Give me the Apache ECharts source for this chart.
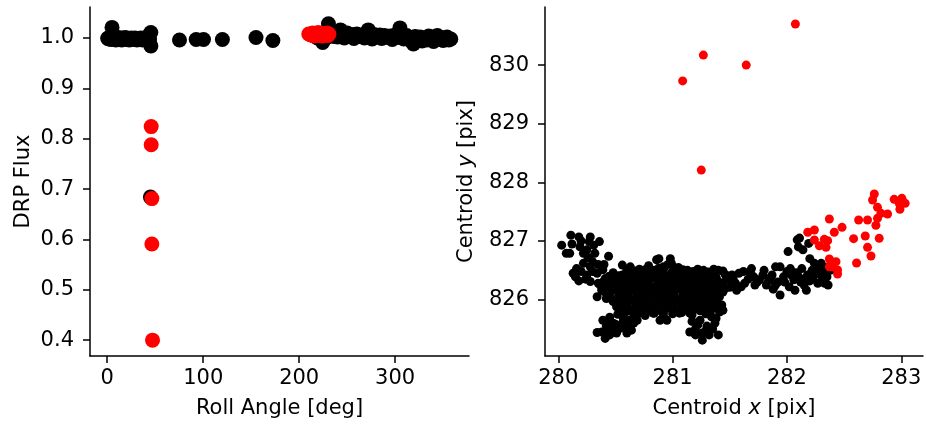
<!DOCTYPE html>
<html>
<head>
<meta charset="utf-8">
<script src="https://cdn.jsdelivr.net/npm/echarts@6/dist/echarts.min.js"></script>
<style>
html,body{margin:0;padding:0;background:#fff;}
#chart{width:927px;height:432px;}
</style>
</head>
<body>
<div id="chart"></div>
<script>
// ---- Left panel: Roll angle vs DRP flux ----
const fluxBlackPts = [
  [0.5,0.999],[1,1.0],[2,0.998],[3,1.001],[4,0.997],[5,1.021],[6,1.0],[7,0.998],[8,1.002],[9,0.996],
  [10,0.999],[11,1.001],[12,0.997],[13,1.0],[14,0.998],[15,0.996],[16,1.0],[18,0.998],[19,1.001],[20,0.997],
  [22,0.999],[23,0.996],[25,1.0],[26,0.998],[28,0.997],[29,1.0],[31,0.996],[32,0.999],[34,0.998],[35,1.0],
  [37,0.996],[38,0.999],[40,1.0],[41,0.997],[42,1.003],[44,0.999],[45.4,1.011],[45.5,0.984],[44,0.994],
  [45,0.684],
  [75.3,0.996],[92.7,0.997],[100.3,0.997],[120,0.997],[155,1.001],[172.6,0.995],
  [219,1.0],[222,1.004],[224.5,0.991],[226,1.008],[228,1.0],[230.5,1.028],[232,1.005],[234,1.01],[236,1.003],
  [238,1.008],[240,1.002],[243,1.016],[245,1.006],[247,1.0],[250,1.01],[252,1.004],[255,1.007],[257,0.999],
  [260,1.008],[262,1.003],[265,1.006],[268,1.0],[270,1.009],[272,1.016],[274,1.004],[276,0.998],[278,1.007],
  [281,1.002],[284,1.006],[286,0.999],[289,1.005],[292,1.001],[295,1.004],[297,0.997],[300,1.006],[302,1.001],
  [305,1.02],[307,1.003],[309,0.998],[312,1.005],[314,1.0],[316,0.995],[319,0.988],[321,1.003],[323,0.997],
  [326,1.002],[328,0.994],[330,1.0],[333,0.996],[335,1.004],[337,0.999],[340,0.993],[342,1.003],[344,1.005],
  [346,0.997],[348,1.001],[350,0.995],[352,0.999],[354,1.002],[356,0.996],[358,0.998]
];
const fluxRedPts = [
  [210,1.008],[212,1.006],[214,1.01],[215,1.004],[217,1.008],[219,1.005],[220,1.011],[222,1.007],
  [224,1.004],[225,1.009],[227,1.006],[229,1.01],[230,1.005],[231,1.008],
  [45.8,0.824],[45.8,0.788],[46.5,0.681],[46.5,0.591],[47.2,0.40]
];
const rollTicks = [0,100,200,300];
const fluxTicks = [0.4,0.5,0.6,0.7,0.8,0.9,1.0];

// ---- Right panel: centroid x vs centroid y ----
const centroidBlackPts = [
  [280.03,826.93],[280.11,827.10],[280.07,826.79],[280.10,826.79],[280.18,827.07],[280.28,827.07],[280.19,826.90],
  [280.22,826.79],[280.31,826.93],[280.32,826.79],[280.36,826.99],[280.22,826.62],[280.16,826.53],[280.15,826.39],[280.18,826.32],
  [280.25,826.42],[280.28,826.56],[280.28,826.31],[280.34,826.45],[280.44,826.74],[280.35,826.28],[280.39,826.51],
  [280.44,826.39],[280.34,826.05],[280.38,826.16],[280.42,826.02],[280.48,826.22],[280.56,826.59],[280.51,826.39],
  [280.54,826.11],[280.48,825.97],[280.51,825.88],[280.39,825.65],[280.34,825.44],[280.41,825.34],[280.44,825.48],
  [280.48,825.60],[280.54,825.51],[280.57,825.68],[280.64,825.48],[280.51,825.43],[280.60,825.43],[280.45,825.40],
  [280.66,825.71],[280.63,825.82],[280.69,825.65],[280.71,825.77],[280.86,826.68],[280.88,826.70],[280.92,826.56],
  [280.98,826.70],[280.99,826.62],[281.04,826.51],[280.83,825.77],[280.89,825.65],[280.95,825.65],[281.06,825.77],
  [281.15,825.77],[281.17,825.63],[281.15,825.45],[281.22,825.57],[281.26,825.31],[281.26,825.43],[281.32,825.40],
  [281.40,825.40],[281.34,825.71],[281.37,825.60],[281.43,825.91],[281.44,825.82],[281.30,825.77],[281.27,826.16],
  [281.33,826.34],[281.52,826.42],[281.55,826.28],[281.56,826.16],[281.62,826.48],[281.63,826.28],[281.69,826.53],
  [281.71,826.39],[281.76,826.34],[281.79,826.42],[281.82,826.25],[281.87,826.42],[281.90,826.56],[281.90,826.25],
  [281.94,826.08],[281.94,826.56],[281.97,826.39],[282.01,826.82],[282.03,826.53],[282.06,826.34],[282.07,826.16],
  [282.09,827.02],[282.10,826.90],[282.11,827.05],[282.13,826.53],[282.14,826.85],[282.16,826.36],[282.17,826.16],
  [282.20,826.70],[282.19,826.96],[282.22,826.50],[282.23,826.39],[282.26,826.56],[282.27,826.28],[282.30,826.62],
  [282.32,826.50],[282.35,826.39],[282.36,826.25],[282.38,826.50],[282.39,826.62],[282.00,826.48],
  [281.50,826.40],[281.58,826.45],[281.66,826.35],[281.74,826.30],[281.86,826.38],[281.92,826.30],[282.04,826.42],
  [282.08,826.46],[282.12,826.30],[282.18,826.42],[282.28,826.45],[282.34,826.55],[282.24,826.62],
  [281.53,826.35],[281.60,826.22],[281.68,826.46],[281.72,826.25],[281.80,826.50],[281.84,826.33],[281.88,826.18],
  [281.98,826.30],[282.02,826.22],[282.10,826.40],[282.15,826.25],[282.20,826.32],[282.25,826.44],[282.31,826.36],
  [282.33,826.28],
  [280.20,827.00],[280.25,826.85],[280.26,826.72],[280.30,826.65],[280.35,826.60],[280.13,826.45],[280.20,826.48],
  [280.24,826.35],[280.30,826.48],[280.40,826.60],[280.12,826.95],[280.27,826.99],
  [280.38,825.45],[280.42,825.55],[280.47,825.50],[280.50,825.58],[280.56,825.60],[280.60,825.55],[280.45,825.70],
  [280.52,825.75],[280.58,825.78],[280.43,825.62],[280.62,825.65],[280.66,825.60],
  [281.20,825.50],[281.24,825.65],[281.30,825.55],[281.35,825.50],[281.20,825.40],[281.29,825.47],[281.38,825.68],
  [280.63,826.56],[280.71,826.52],[280.79,826.58],[280.88,826.54],[280.96,826.60],[281.05,826.55],[281.13,826.50],
  [281.22,826.52],[281.31,826.47],[281.40,826.50],
  [280.60,826.50],[280.68,826.49],[280.76,826.51],[280.84,826.50],[280.92,826.52],[281.01,826.49],[281.09,826.51],
  [281.18,826.48],[281.27,826.50],[281.36,826.52],[281.44,826.49],
  [280.48,826.46],[280.56,826.42],[280.64,826.47],[280.72,826.44],[280.81,826.48],[280.90,826.43],[280.99,826.46],
  [281.07,826.42],[281.16,826.45],[281.25,826.41],[281.34,826.44],[281.46,826.43],
  [280.45,826.40],[280.53,826.41],[280.61,826.39],[280.69,826.40],[280.78,826.41],[280.86,826.39],[280.95,826.40],
  [281.03,826.41],[281.12,826.39],[281.20,826.40],[281.29,826.41],[281.38,826.39],[281.47,826.40],
  [280.41,826.36],[280.49,826.33],[280.57,826.37],[280.65,826.34],[280.74,826.32],[280.82,826.37],[280.90,826.33],
  [280.98,826.36],[281.06,826.31],[281.15,826.35],[281.23,826.32],[281.31,826.36],[281.39,826.33],[281.48,826.35],
  [280.39,826.30],[280.47,826.29],[280.55,826.31],[280.63,826.30],[280.71,826.29],[280.79,826.31],[280.87,826.30],
  [280.95,826.29],[281.03,826.31],[281.11,826.30],[281.19,826.29],[281.27,826.31],[281.35,826.30],[281.44,826.29],
  [281.52,826.30],
  [280.37,826.24],[280.45,826.27],[280.53,826.22],[280.61,826.26],[280.69,826.23],[280.77,826.27],[280.85,826.22],
  [280.93,826.25],[281.01,826.28],[281.09,826.23],[281.17,826.26],[281.25,826.22],[281.33,826.27],[281.41,826.24],
  [281.50,826.21],
  [280.41,826.20],[280.49,826.19],[280.57,826.21],[280.65,826.20],[280.73,826.19],[280.81,826.21],[280.89,826.20],
  [280.97,826.19],[281.05,826.21],[281.13,826.20],[281.21,826.19],[281.29,826.21],[281.37,826.20],[281.46,826.19],
  [280.40,826.14],[280.48,826.17],[280.56,826.12],[280.64,826.16],[280.72,826.13],[280.80,826.17],[280.88,826.12],
  [280.96,826.15],[281.04,826.18],[281.12,826.13],[281.20,826.16],[281.28,826.12],[281.36,826.15],[281.44,826.13],
  [280.45,826.10],[280.53,826.09],[280.61,826.11],[280.69,826.10],[280.77,826.09],[280.85,826.11],[280.93,826.10],
  [281.01,826.09],[281.09,826.11],[281.17,826.10],[281.25,826.09],[281.33,826.11],[281.40,826.10],
  [280.44,826.06],[280.52,826.03],[280.60,826.07],[280.68,826.04],[280.76,826.02],[280.84,826.06],[280.92,826.03],
  [281.00,826.07],[281.08,826.04],[281.16,826.02],[281.24,826.06],[281.32,826.03],[281.41,826.05],
  [280.47,826.00],[280.55,825.99],[280.63,826.01],[280.71,826.00],[280.79,825.99],[280.87,826.01],[280.95,826.00],
  [281.03,825.99],[281.11,826.01],[281.19,826.00],[281.27,825.99],[281.35,826.01],
  [280.50,825.96],[280.58,825.93],[280.66,825.97],[280.74,825.94],[280.82,825.92],[280.90,825.96],[280.98,825.93],
  [281.06,825.97],[281.14,825.94],[281.22,825.92],[281.30,825.96],[281.38,825.93],
  [280.52,825.90],[280.60,825.89],[280.68,825.91],[280.76,825.90],[280.84,825.89],[280.92,825.91],[281.00,825.90],
  [281.08,825.89],[281.16,825.91],[281.24,825.90],[281.32,825.89],[281.40,825.91],
  [280.55,825.86],[280.63,825.83],[280.71,825.87],[280.79,825.84],[280.87,825.82],[280.95,825.86],[281.03,825.83],
  [281.11,825.87],[281.19,825.84],[281.27,825.82],[281.36,825.86],
  [280.60,825.80],[280.68,825.79],[280.76,825.81],[280.84,825.80],[280.92,825.79],[281.00,825.81],[281.08,825.80],
  [281.16,825.79],[281.24,825.81],[281.33,825.80],[281.41,825.79],
  [280.68,825.76],[280.76,825.73],[280.84,825.77],[280.92,825.74],[281.00,825.76],[281.08,825.78],[281.17,825.74],
  [281.29,825.76]
];
const centroidRedPts = [
  [281.088,829.73],[281.269,830.17],[281.644,830.00],[282.074,830.70],[281.251,828.21],
  [282.182,827.149],[282.240,827.188],[282.240,827.018],[282.284,826.920],[282.327,827.029],[282.356,827.006],
  [282.342,826.893],[282.371,827.375],[282.414,827.149],[282.482,827.234],[282.371,826.694],[282.400,826.562],
  [282.429,826.648],[282.443,826.438],[282.443,826.506],[282.371,826.562],[282.583,827.040],[282.609,826.626],
  [282.627,827.358],[282.685,827.086],[282.705,827.358],[282.705,826.893],[282.735,826.745],[282.749,827.699],
  [282.764,827.802],[282.778,827.268],[282.792,827.575],[282.807,827.046],[282.792,827.387],[282.822,827.472],
  [282.880,827.461],[282.938,827.711],[282.982,827.643],[283.005,827.728],[282.988,827.541],[283.034,827.643]
];
const cxTicks = [280,281,282,283];
const cyTicks = [826,827,828,829,830];

const FONT = 'DejaVu Sans';
const FS = 21;
function axisCommon(ticks, fmt, isY){
  return {
    type:'value', scale:true,
    axisLine:{show:true, onZero:false, lineStyle:{color:'#000', width:1.5}},
    axisTick:{show:true, inside:false, length:7, lineStyle:{color:'#000', width:1.5}, customValues:ticks},
    axisLabel:{show:true, color:'#000', fontFamily:FONT, fontSize:FS, margin: isY?16:12, customValues:ticks, formatter:fmt},
    splitLine:{show:false},
    nameLocation:'middle',
    nameTextStyle:{color:'#000', fontFamily:FONT, fontSize:FS}
  };
}
const chart = echarts.init(document.getElementById('chart'), null, {renderer:'canvas'});
const option = {
  animation:false,
  backgroundColor:'#fff',
  grid:[
    {left:90, top:7, width:379, height:349},
    {left:545, top:7, width:378, height:349}
  ],
  xAxis:[
    Object.assign(axisCommon(rollTicks, v=>String(v), false), {gridIndex:0, min:-17.95, max:376.95, name:'Roll Angle [deg]', nameGap:42}),
    Object.assign(axisCommon(cxTicks, v=>String(v), false), {gridIndex:1, min:279.884, max:283.19,
      name:'{n|Centroid }{i|x}{n| [pix]}', nameGap:42,
      nameTextStyle:{color:'#000', fontFamily:FONT, fontSize:FS, rich:{n:{fontFamily:FONT,fontSize:FS,color:'#000'}, i:{fontFamily:FONT,fontSize:FS,fontStyle:'italic',color:'#000'}}}})
  ],
  yAxis:[
    Object.assign(axisCommon(fluxTicks, v=>v.toFixed(1), true), {gridIndex:0, min:0.3685, max:1.0615, name:'DRP Flux', nameGap:56, nameRotate:90}),
    Object.assign(axisCommon(cyTicks, v=>String(v), true), {gridIndex:1, min:825.04, max:830.99,
      name:'{n|Centroid }{i|y}{n| [pix]}', nameGap:68, nameRotate:90,
      nameTextStyle:{color:'#000', fontFamily:FONT, fontSize:FS, rich:{n:{fontFamily:FONT,fontSize:FS,color:'#000'}, i:{fontFamily:FONT,fontSize:FS,fontStyle:'italic',color:'#000'}}}})
  ],
  series:[
    {type:'scatter', xAxisIndex:0, yAxisIndex:0, data:fluxBlackPts, symbol:'circle', symbolSize:15, itemStyle:{color:'#000', opacity:1}, emphasis:{disabled:true}},
    {type:'scatter', xAxisIndex:0, yAxisIndex:0, data:fluxRedPts, symbol:'circle', symbolSize:15, itemStyle:{color:'#ff0000', opacity:1}, emphasis:{disabled:true}},
    {type:'scatter', xAxisIndex:1, yAxisIndex:1, data:centroidBlackPts, symbol:'circle', symbolSize:9, itemStyle:{color:'#000', opacity:1}, emphasis:{disabled:true}},
    {type:'scatter', xAxisIndex:1, yAxisIndex:1, data:centroidRedPts, symbol:'circle', symbolSize:9, itemStyle:{color:'#ff0000', opacity:1}, emphasis:{disabled:true}}
  ]
};
chart.setOption(option);
</script>
</body>
</html>
